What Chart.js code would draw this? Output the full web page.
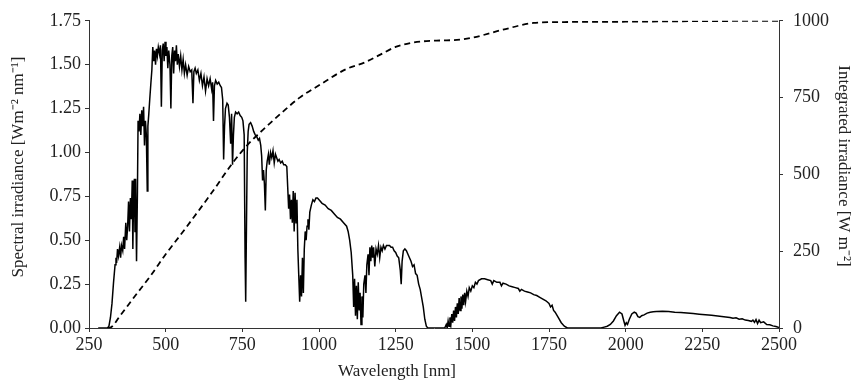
<!DOCTYPE html>
<html>
<head>
<meta charset="utf-8">
<title>Solar spectrum</title>
<script src="https://cdn.jsdelivr.net/npm/chart.js@4.4.1/dist/chart.umd.min.js"></script>
<style>
  html, body { margin: 0; padding: 0; background: #fff; }
  #wrap { width: 854px; height: 382px; }
</style>
</head>
<body>
<div id="wrap"><canvas id="chart"></canvas></div>
<script>
// --- DATA ---
const wavelengths = [
  280, 300, 310, 315, 320, 325, 330, 335, 338, 340, 343, 346, 350, 353, 356, 360, 363, 366, 370, 373,
  376, 379, 382, 385, 388, 391, 393, 395, 398, 400, 402, 405, 408, 410, 413, 416, 419, 422, 425, 428,
  431, 434, 437, 440, 442, 445, 448, 452, 455, 458, 461, 464, 467, 470, 473, 476, 480, 483, 486, 489,
  492, 495, 498, 501, 504, 507, 510, 514, 517, 520, 523, 526, 529, 532, 535, 538, 541, 545, 549, 553,
  557, 561, 565, 570, 575, 580, 585, 589, 592, 596, 600, 605, 610, 615, 620, 625, 630, 635, 640, 645,
  650, 653, 656, 659, 663, 668, 673, 678, 682, 686, 689, 692, 695, 700, 704, 708, 712, 715, 718, 721,
  724, 728, 733, 738, 743, 748, 752, 756, 759, 761, 763, 766, 769, 772, 777, 782, 787, 792, 797, 802,
  806, 810, 813, 816, 819, 822, 825, 828, 831, 835, 838, 842, 846, 850, 854, 858, 862, 866, 870, 875,
  880, 885, 890, 895, 898, 901, 904, 907, 910, 913, 916, 919, 922, 925, 928, 931, 934, 937, 940, 943,
  946, 949, 952, 955, 958, 961, 964, 967, 970, 975, 980, 985, 990, 995, 1000, 1010, 1020, 1030, 1040, 1050,
  1060, 1070, 1080, 1090, 1095, 1100, 1105, 1110, 1113, 1116, 1119, 1122, 1125, 1128, 1131, 1134, 1137, 1140, 1143, 1146,
  1150, 1153, 1156, 1160, 1163, 1166, 1169, 1172, 1175, 1178, 1182, 1186, 1190, 1194, 1198, 1202, 1206, 1210, 1215, 1220,
  1225, 1230, 1235, 1240, 1245, 1250, 1255, 1260, 1265, 1268, 1271, 1275, 1280, 1285, 1290, 1295, 1300, 1305, 1310, 1315,
  1320, 1325, 1330, 1335, 1340, 1345, 1350, 1355, 1400, 1410, 1415, 1418, 1421, 1424, 1427, 1430, 1433, 1436, 1439, 1442,
  1445, 1448, 1451, 1454, 1457, 1460, 1463, 1466, 1469, 1472, 1475, 1478, 1482, 1486, 1490, 1495, 1500, 1505, 1510, 1515,
  1520, 1530, 1540, 1550, 1560, 1565, 1570, 1580, 1590, 1595, 1600, 1610, 1620, 1630, 1640, 1650, 1655, 1660, 1670, 1680,
  1690, 1700, 1710, 1720, 1730, 1740, 1750, 1755, 1760, 1765, 1770, 1780, 1790, 1800, 1810, 1920, 1930, 1940, 1950, 1960,
  1970, 1980, 1988, 1994, 1998, 2002, 2006, 2012, 2020, 2028, 2034, 2040, 2046, 2052, 2060, 2070, 2080, 2090, 2100, 2120,
  2140, 2160, 2180, 2200, 2220, 2240, 2260, 2280, 2300, 2320, 2340, 2350, 2360, 2370, 2380, 2390, 2400, 2410, 2415, 2420,
  2425, 2430, 2435, 2440, 2450, 2460, 2470, 2480, 2490, 2500
];
const spectral = [
  0, 0, 0, 0.01, 0.06, 0.14, 0.26, 0.36, 0.40, 0.37, 0.45, 0.41, 0.46, 0.40, 0.47, 0.44, 0.52, 0.45, 0.60, 0.50,
  0.58, 0.72, 0.55, 0.74, 0.62, 0.84, 0.45, 0.70, 0.85, 0.55, 0.85, 0.38, 0.78, 1.18, 1.12, 1.22, 1.10, 1.24, 1.15, 1.26,
  1.04, 1.18, 1.10, 0.78, 1.15, 1.22, 1.30, 1.40, 1.47, 1.60, 1.52, 1.58, 1.50, 1.59, 1.55, 1.60, 1.56, 1.61, 1.26, 1.58,
  1.62, 1.52, 1.63, 1.55, 1.60, 1.48, 1.58, 1.50, 1.25, 1.55, 1.60, 1.45, 1.58, 1.52, 1.61, 1.50, 1.56, 1.49, 1.55, 1.47,
  1.53, 1.45, 1.50, 1.44, 1.49, 1.46, 1.47, 1.28, 1.46, 1.48, 1.45, 1.47, 1.41, 1.45, 1.38, 1.43, 1.35, 1.42, 1.38, 1.42,
  1.36, 1.40, 1.18, 1.38, 1.41, 1.39, 1.40, 1.38, 1.37, 1.30, 0.96, 1.15, 1.25, 1.28, 1.27, 1.20, 1.05, 1.22, 0.93, 1.10,
  1.20, 1.23, 1.22, 1.23, 1.21, 1.20, 1.18, 1.10, 0.40, 0.15, 0.50, 1.00, 1.12, 1.16, 1.17, 1.15, 1.12, 1.10, 1.09, 1.07,
  1.08, 1.04, 0.98, 0.84, 0.90, 0.82, 0.67, 0.90, 0.95, 0.99, 0.93, 1.00, 0.97, 1.01, 0.94, 0.99, 0.97, 0.95, 0.96, 0.94,
  0.95, 0.93, 0.93, 0.92, 0.80, 0.68, 0.76, 0.62, 0.73, 0.60, 0.78, 0.55, 0.77, 0.60, 0.73, 0.45, 0.30, 0.15, 0.30, 0.18,
  0.40, 0.20, 0.45, 0.55, 0.50, 0.58, 0.62, 0.56, 0.66, 0.70, 0.73, 0.72, 0.74, 0.74, 0.73, 0.71, 0.70, 0.68, 0.67, 0.65,
  0.63, 0.62, 0.60, 0.58, 0.55, 0.50, 0.43, 0.30, 0.12, 0.28, 0.07, 0.24, 0.05, 0.26, 0.10, 0.20, 0.02, 0.18, 0.06, 0.25,
  0.30, 0.20, 0.36, 0.42, 0.30, 0.46, 0.38, 0.47, 0.40, 0.46, 0.35, 0.45, 0.42, 0.47, 0.40, 0.46, 0.44, 0.47, 0.45, 0.47,
  0.47, 0.47, 0.46, 0.46, 0.44, 0.43, 0.41, 0.40, 0.33, 0.25, 0.38, 0.44, 0.45, 0.44, 0.42, 0.40, 0.38, 0.35, 0.36, 0.31,
  0.30, 0.25, 0.22, 0.17, 0.12, 0.05, 0.01, 0, 0, 0, 0.02, 0, 0.04, 0.01, 0.06, 0.02, 0.08, 0.03, 0.10, 0.04,
  0.12, 0.06, 0.14, 0.08, 0.17, 0.10, 0.18, 0.11, 0.19, 0.13, 0.20, 0.15, 0.21, 0.18, 0.23, 0.21, 0.24, 0.23, 0.26, 0.25,
  0.27, 0.28, 0.28, 0.275, 0.27, 0.25, 0.27, 0.26, 0.26, 0.24, 0.255, 0.25, 0.24, 0.235, 0.23, 0.225, 0.21, 0.22, 0.21, 0.205,
  0.20, 0.19, 0.185, 0.175, 0.165, 0.155, 0.14, 0.12, 0.13, 0.10, 0.09, 0.06, 0.03, 0.01, 0, 0, 0.005, 0.01, 0.02, 0.04,
  0.07, 0.09, 0.08, 0.04, 0.015, 0.03, 0.02, 0.05, 0.08, 0.09, 0.085, 0.065, 0.06, 0.07, 0.075, 0.085, 0.09, 0.092, 0.094, 0.095,
  0.094, 0.09, 0.088, 0.085, 0.082, 0.079, 0.076, 0.072, 0.068, 0.064, 0.06, 0.055, 0.058, 0.05, 0.052, 0.045, 0.043, 0.038, 0.045, 0.032,
  0.048, 0.025, 0.045, 0.03, 0.035, 0.02, 0.018, 0.012, 0.008, 0.003
];

const intWavelengths = [310, 323, 350, 400, 450, 500, 550, 589, 650, 719, 764, 817, 880, 937, 1000, 1089, 1150, 1200, 1250, 1300, 1350, 1400, 1450, 1500, 1600, 1700, 1800, 2000, 2250, 2500];
const integrated =     [0,   3,   38,  104, 169, 240, 305, 357, 440, 538, 593, 645, 702, 750, 790, 843,  865,  890,  915,  928,  934,  936,  938,  945,  971,  993,  996,  997,  999,  1000];

const xTicks = [250, 500, 750, 1000, 1250, 1500, 1750, 2000, 2250, 2500];

const xTitle = 'Wavelength [nm]';
const yTitle = 'Spectral irradiance [Wm\u207B\u00B2 nm\u207B\u00B9]';
const y2Title = 'Integrated irradiance [W m\u207B\u00B2]';

// --- STYLE ---
const FONT = 'Liberation Serif';
const INK = '#222';
const AXIS = '#333';

const toPoints = (xs, ys) => xs.map((x, i) => ({ x: x, y: ys[i] }));

function fixWidth(w) {
  return scale => { scale.width = w; };
}

// axis titles sit a bit off-centre in the original, so draw them here
const axisTitles = {
  id: 'axisTitles',
  afterDraw(chart) {
    const ctx = chart.ctx;
    ctx.save();
    ctx.fillStyle = INK;
    ctx.font = '17px "' + FONT + '"';
    ctx.textAlign = 'center';
    ctx.textBaseline = 'middle';
    ctx.fillText(xTitle, 397, 372);

    ctx.translate(19, 167);
    ctx.rotate(-Math.PI / 2);
    ctx.fillText(yTitle, 0, 0);
    ctx.restore();

    ctx.save();
    ctx.fillStyle = INK;
    ctx.font = '17px "' + FONT + '"';
    ctx.textAlign = 'center';
    ctx.textBaseline = 'middle';
    ctx.translate(843, 166);
    ctx.rotate(Math.PI / 2);
    ctx.fillText(y2Title, 0, 0);
    ctx.restore();
  }
};

new Chart(document.getElementById('chart'), {
  type: 'line',
  data: {
    datasets: [
      {
        label: 'Spectral irradiance',
        data: toPoints(wavelengths, spectral),
        yAxisID: 'y',
        borderColor: '#000',
        borderWidth: 1.5,
        pointRadius: 0,
        tension: 0
      },
      {
        label: 'Integrated irradiance',
        data: toPoints(intWavelengths, integrated),
        yAxisID: 'y2',
        borderColor: '#000',
        borderWidth: 1.8,
        borderDash: [6, 4],
        pointRadius: 0,
        cubicInterpolationMode: 'monotone'
      }
    ]
  },
  options: {
    responsive: true,
    maintainAspectRatio: false,
    animation: false,
    layout: { padding: { top: 16, left: 0, right: 0, bottom: 0 } },
    plugins: { legend: { display: false }, tooltip: { enabled: false } },
    scales: {
      x: {
        type: 'linear',
        min: 250,
        max: 2500,
        afterBuildTicks: s => { s.ticks = xTicks.map(v => ({ value: v })); },
        afterFit: s => { s.height = 54; },
        grid: { drawOnChartArea: false, tickLength: 4, color: AXIS },
        border: { color: AXIS, width: 1 },
        ticks: { color: INK, font: { family: FONT, size: 18 }, padding: 2, maxRotation: 0, callback: v => String(v) }
      },
      y: {
        position: 'left',
        min: 0,
        max: 1.75,
        afterFit: fixWidth(89),
        grid: { drawOnChartArea: false, tickLength: 4, color: AXIS },
        border: { color: AXIS, width: 1 },
        ticks: { stepSize: 0.25, color: INK, font: { family: FONT, size: 18 }, padding: 4, callback: v => v.toFixed(2) }
      },
      y2: {
        position: 'right',
        min: 0,
        max: 1000,
        afterFit: fixWidth(75),
        grid: { drawOnChartArea: false, tickLength: 4, color: AXIS },
        border: { color: AXIS, width: 1 },
        ticks: { stepSize: 250, color: INK, font: { family: FONT, size: 18 }, padding: 10, callback: v => String(v) }
      }
    }
  },
  plugins: [axisTitles]
});
</script>
</body>
</html>
